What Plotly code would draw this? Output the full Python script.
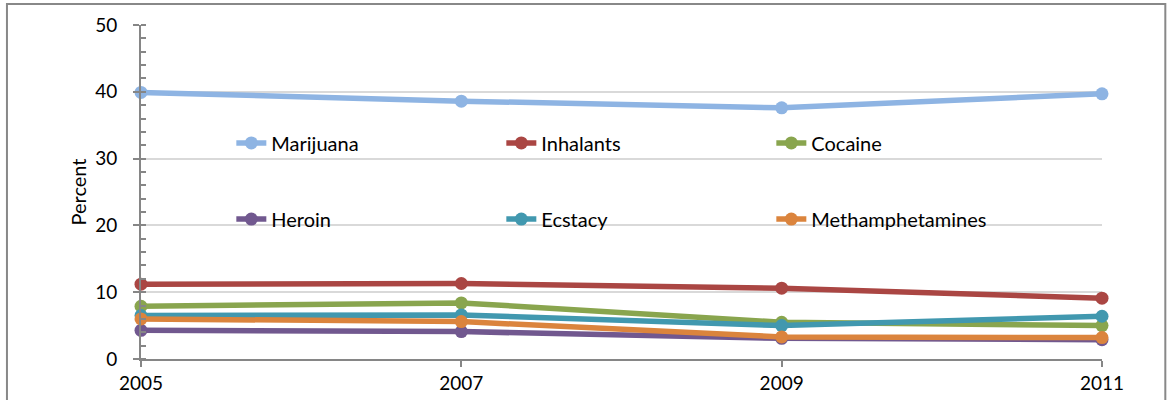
import plotly.graph_objects as go

years = [2005, 2007, 2009, 2011]
year_labels = ["2005", "2007", "2009", "2011"]
marijuana = [39.9, 38.6, 37.6, 39.7]
inhalants = [11.2, 11.3, 10.6, 9.1]
cocaine = [7.9, 8.4, 5.5, 5.0]
heroin = [4.3, 4.1, 3.1, 2.9]
ecstacy = [6.5, 6.6, 5.0, 6.4]
meth = [6.0, 5.6, 3.3, 3.2]

series = [
    ("Marijuana", marijuana, "#8EB4E3", "legend"),
    ("Inhalants", inhalants, "#AA4643", "legend"),
    ("Cocaine", cocaine, "#89A54E", "legend"),
    ("Heroin", heroin, "#71588F", "legend2"),
    ("Ecstacy", ecstacy, "#4198AF", "legend2"),
    ("Methamphetamines", meth, "#DB843D", "legend2"),
]

FONT = "Lato"
fig = go.Figure()
for name, vals, color, lg in series:
    fig.add_trace(go.Scatter(
        x=years, y=vals, name=name, mode="lines+markers",
        line=dict(color=color, width=5.5),
        marker=dict(color=color, size=13),
        cliponaxis=False,
        legend=lg,
    ))

legend_common = dict(
    orientation="h", entrywidth=225, entrywidthmode="pixels",
    bgcolor="rgba(0,0,0,0)", font=dict(family=FONT, size=20, color="#000000"),
    xanchor="left", yanchor="middle", traceorder="normal",
)
fig.update_layout(
    width=1173, height=400,
    margin=dict(l=141, r=71, t=25, b=41),
    paper_bgcolor="white", plot_bgcolor="white",
    font=dict(family=FONT, size=19, color="#000000"),
    showlegend=True,
    legend=dict(x=0.094, y=0.647, **legend_common),
    legend2=dict(x=0.094, y=0.419, **legend_common),
    xaxis=dict(
        range=[2005, 2011], tickvals=years, ticktext=year_labels,
        showgrid=False, zeroline=False, automargin=False,
        showline=True, linecolor="#868686", linewidth=2,
        ticks="outside", ticklen=6, tickcolor="#868686", tickwidth=2,
        tickfont=dict(family=FONT, size=19, color="#000000"),
    ),
    yaxis=dict(
        range=[0, 50], dtick=10, tick0=0, automargin=False,
        showgrid=True, gridcolor="#D9D9D9", gridwidth=2,
        zeroline=False,
        showline=True, linecolor="#868686", linewidth=2,
        ticks="outside", ticklen=6, tickcolor="#868686", tickwidth=2,
        minor=dict(dtick=2, ticks="inside", ticklen=5, tickcolor="#868686", tickwidth=2, showgrid=False),
        tickfont=dict(family=FONT, size=19, color="#000000"),
        ticklabelstandoff=12,
        title=dict(text="Percent", font=dict(family=FONT, size=20, color="#000000"), standoff=3),
    ),
    shapes=[dict(
        type="rect", xref="paper", yref="paper",
        x0=(7 - 141) / 960.7, x1=(1165 - 141) / 960.7,
        y0=(359 - 405) / 334, y1=(359 - 4) / 334,
        line=dict(color="#888888", width=2), fillcolor="rgba(0,0,0,0)", layer="below",
    )],
)
fig.write_html("out.html", config={"displayModeBar": False},
               post_script="document.body.style.margin='0';")
